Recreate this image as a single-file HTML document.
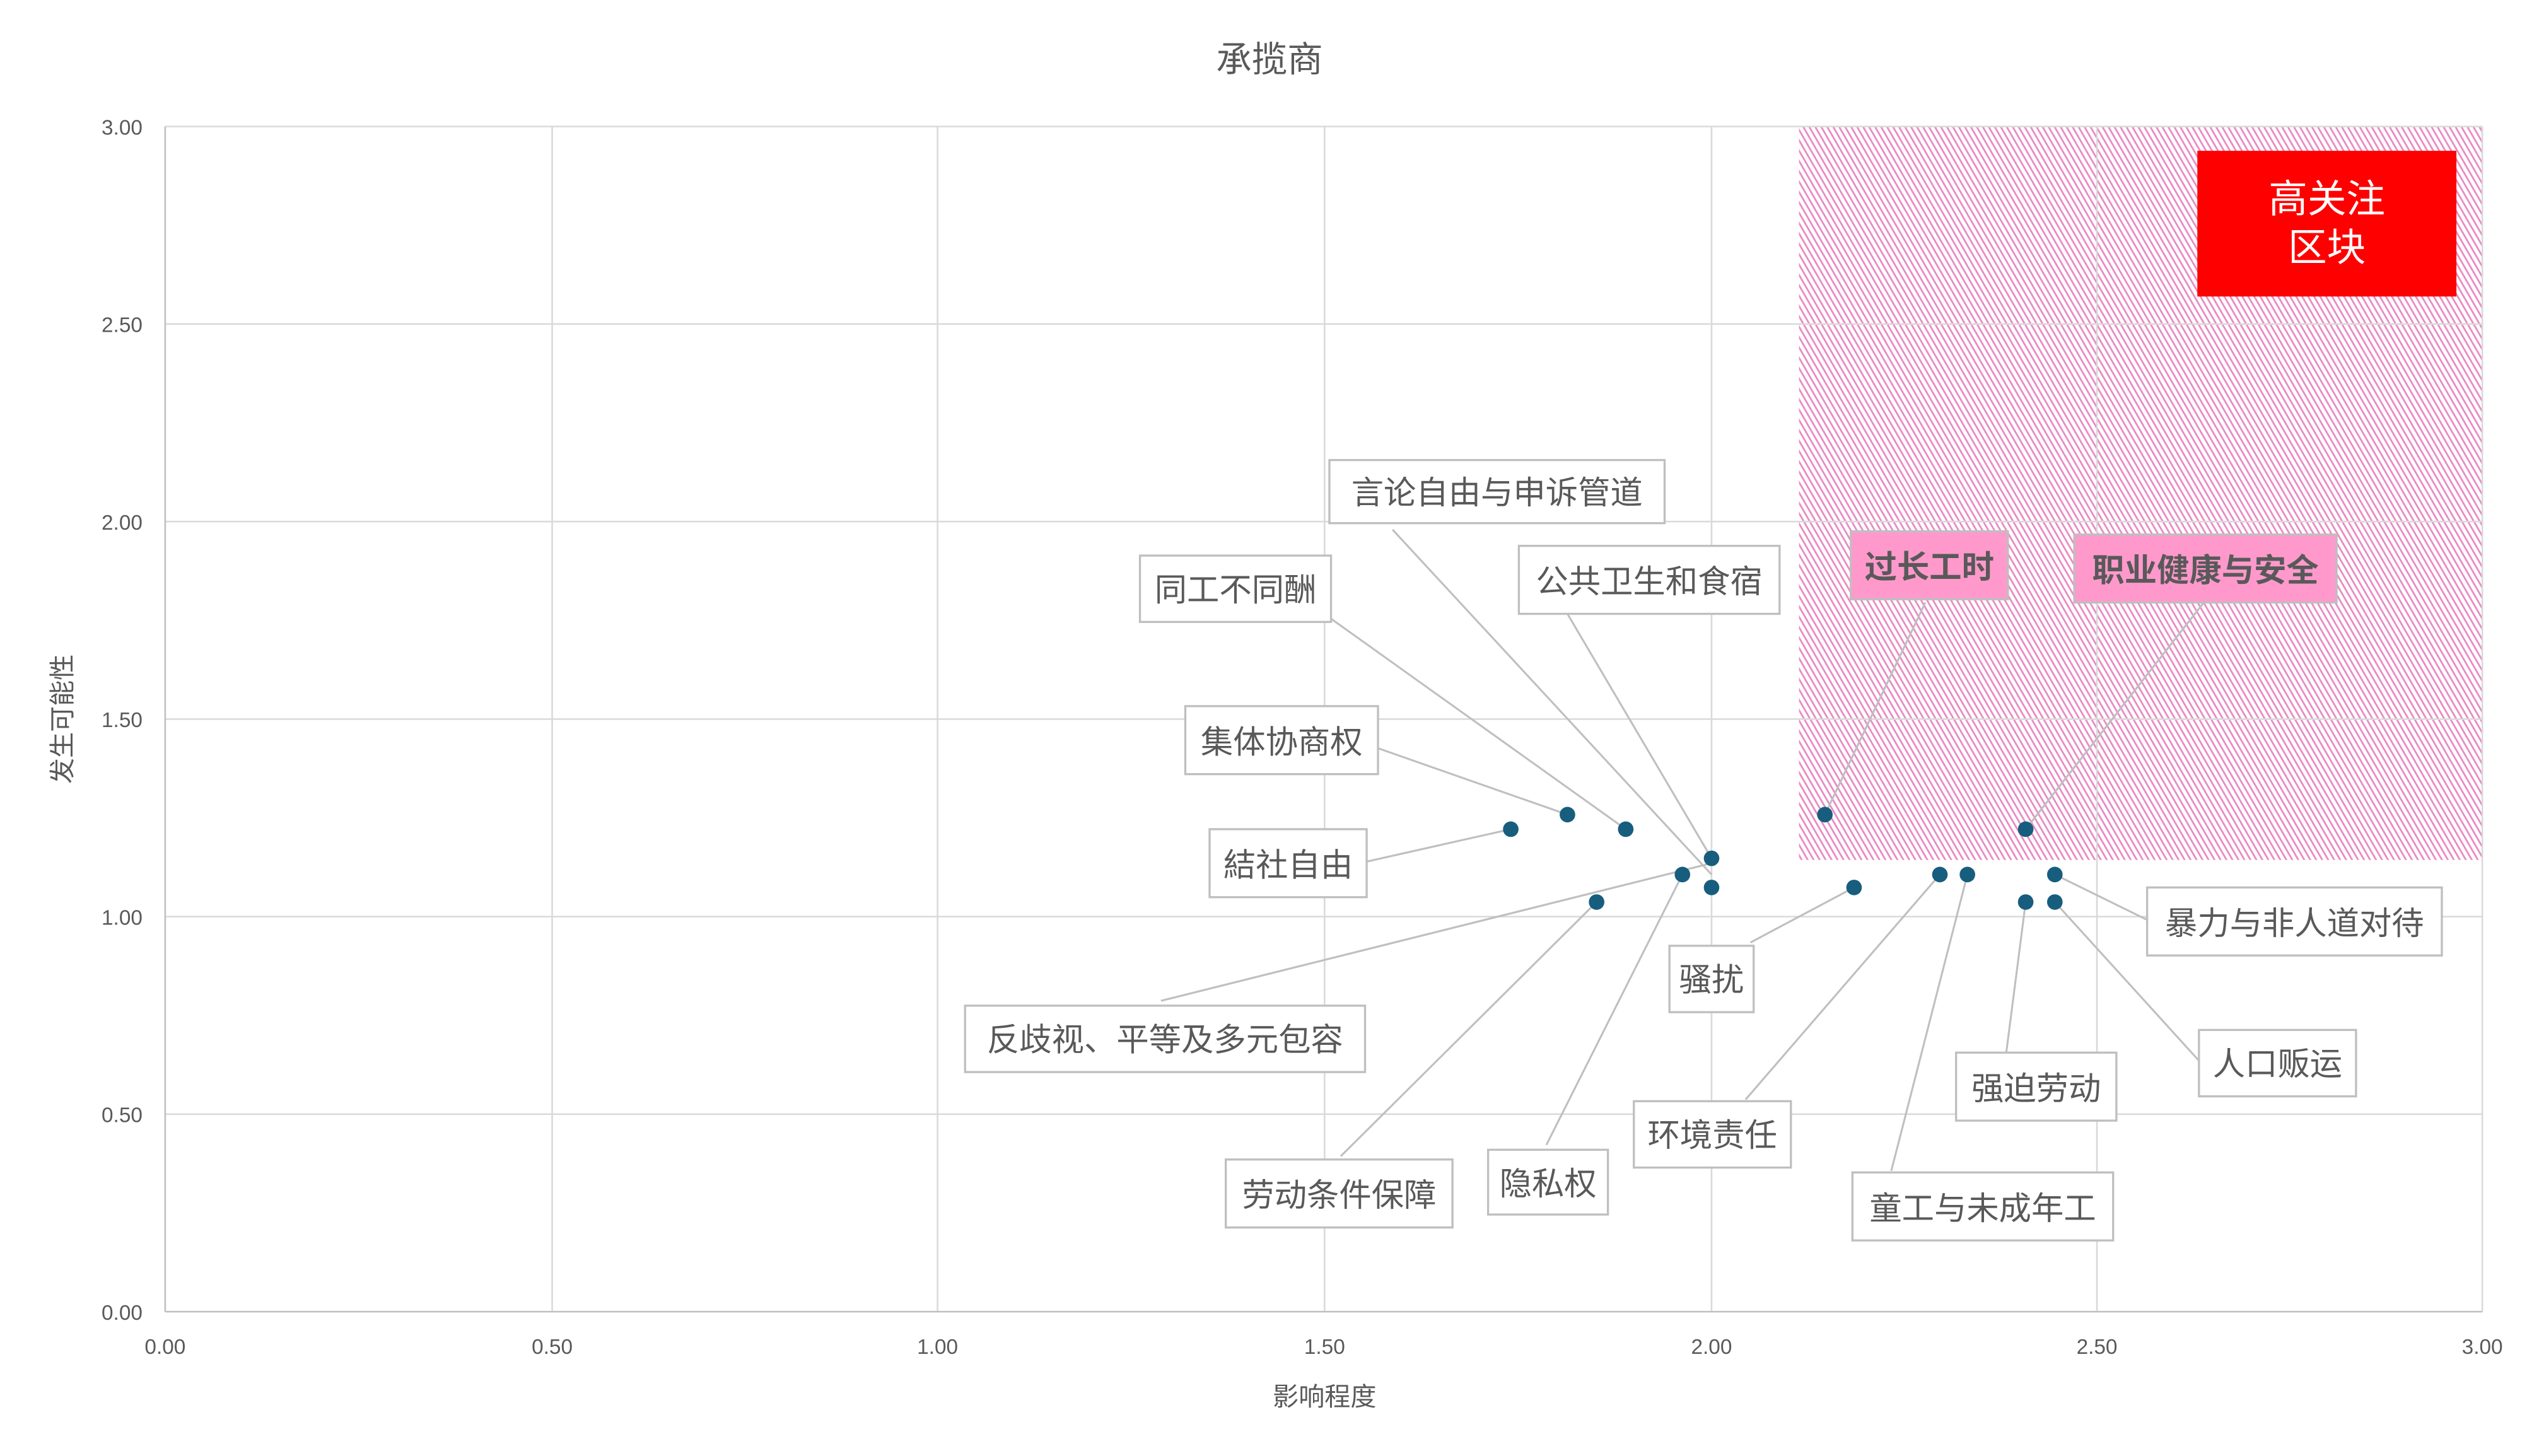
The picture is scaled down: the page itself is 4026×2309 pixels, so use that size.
<!DOCTYPE html>
<html><head><meta charset="utf-8"><style>
html,body{margin:0;padding:0;background:#fff;}
svg{display:block;}
text{font-family:"Liberation Sans","Noto Sans CJK SC",sans-serif;fill:#595959;}
</style></head><body>
<svg width="4026" height="2309" viewBox="0 0 1568 899" xmlns="http://www.w3.org/2000/svg">
<defs>
<pattern id="h" patternUnits="userSpaceOnUse" width="3.2" height="3.2" patternTransform="rotate(-30)">
<rect width="3.2" height="3.2" fill="#fff"/>
<rect width="1.1" height="3.2" fill="#e98bc4"/>
</pattern>
</defs>
<rect x="0" y="0" width="1568" height="899" fill="#fff"/>
<rect x="1111" y="78" width="422" height="453" fill="url(#h)"/>
<g stroke="#d9d9d9" stroke-width="1">
<line x1="102" y1="78" x2="1533" y2="78"/>
<line x1="102" y1="200" x2="1533" y2="200"/>
<line x1="102" y1="322" x2="1533" y2="322"/>
<line x1="102" y1="444" x2="1533" y2="444"/>
<line x1="102" y1="566" x2="1533" y2="566"/>
<line x1="102" y1="688" x2="1533" y2="688"/>
<line x1="341" y1="78" x2="341" y2="810"/>
<line x1="579" y1="78" x2="579" y2="810"/>
<line x1="818" y1="78" x2="818" y2="810"/>
<line x1="1057" y1="78" x2="1057" y2="810"/>
<line x1="1295" y1="78" x2="1295" y2="810"/>
<line x1="1533" y1="78" x2="1533" y2="810"/>
</g>
<g stroke="#bfbfbf" stroke-width="1">
<line x1="102" y1="78" x2="102" y2="810"/>
<line x1="102" y1="810" x2="1533" y2="810"/>
</g>
<g font-size="13" text-anchor="end">
<text x="88" y="83">3.00</text><text x="88" y="205">2.50</text><text x="88" y="327">2.00</text>
<text x="88" y="449">1.50</text><text x="88" y="571">1.00</text><text x="88" y="693">0.50</text><text x="88" y="815">0.00</text>
</g>
<g font-size="13" text-anchor="middle">
<text x="102" y="836">0.00</text><text x="341" y="836">0.50</text><text x="579" y="836">1.00</text>
<text x="818" y="836">1.50</text><text x="1057" y="836">2.00</text><text x="1295" y="836">2.50</text><text x="1533" y="836">3.00</text>
</g>
<text x="784" y="44" font-size="22" text-anchor="middle">承揽商</text>
<text x="818" y="868" font-size="16" text-anchor="middle">影响程度</text>
<text transform="translate(44,444) rotate(-90)" font-size="16" text-anchor="middle">发生可能性</text>
<rect x="1357" y="93" width="160" height="90" fill="#ff0000"/>
<text x="1437" y="131" font-size="24" text-anchor="middle" style="fill:#fff">高关注</text>
<text x="1437" y="161" font-size="24" text-anchor="middle" style="fill:#fff">区块</text>
<g stroke="#bfbfbf" stroke-width="1.2" fill="none">
<line x1="860" y1="327" x2="1057" y2="540"/>
<line x1="968" y1="379" x2="1057" y2="530"/>
<line x1="822" y1="382" x2="1004" y2="512"/>
<line x1="851" y1="462" x2="968" y2="503"/>
<line x1="844" y1="532" x2="933" y2="512"/>
<line x1="717" y1="618" x2="1057" y2="533"/>
<line x1="828" y1="714" x2="986" y2="557"/>
<line x1="955" y1="707" x2="1039" y2="540"/>
<line x1="1081" y1="582" x2="1145" y2="548"/>
<line x1="1078" y1="679" x2="1198" y2="540"/>
<line x1="1168" y1="723" x2="1215" y2="540"/>
<line x1="1239" y1="650" x2="1251" y2="557"/>
<line x1="1358" y1="655" x2="1269" y2="557"/>
<line x1="1326" y1="568" x2="1269" y2="540"/>
<line x1="1361" y1="372" x2="1251" y2="512"/>
<line x1="1189" y1="372" x2="1127" y2="503"/>
</g>
<g fill="#175d7e">
<circle cx="933" cy="512" r="4.8"/><circle cx="968" cy="503" r="4.8"/><circle cx="1004" cy="512" r="4.8"/>
<circle cx="1057" cy="530" r="4.8"/><circle cx="1039" cy="540" r="4.8"/><circle cx="1057" cy="548" r="4.8"/>
<circle cx="986" cy="557" r="4.8"/><circle cx="1127" cy="503" r="4.8"/><circle cx="1145" cy="548" r="4.8"/>
<circle cx="1198" cy="540" r="4.8"/><circle cx="1215" cy="540" r="4.8"/><circle cx="1251" cy="512" r="4.8"/>
<circle cx="1269" cy="540" r="4.8"/><circle cx="1251" cy="557" r="4.8"/><circle cx="1269" cy="557" r="4.8"/>
</g>
<g stroke="#bfbfbf" stroke-width="1.3" fill="#fff">
<rect x="821" y="284" width="207" height="39"/>
<rect x="938" y="337" width="161" height="42"/>
<rect x="704" y="343" width="118" height="41"/>
<rect x="732" y="436" width="119" height="42"/>
<rect x="747" y="512" width="97" height="42"/>
<rect x="596" y="621" width="247" height="41"/>
<rect x="757" y="716" width="140" height="42"/>
<rect x="919" y="710" width="74" height="40"/>
<rect x="1031" y="584" width="52" height="41"/>
<rect x="1009" y="680" width="97" height="41"/>
<rect x="1144" y="724" width="161" height="42"/>
<rect x="1208" y="650" width="99" height="42"/>
<rect x="1358" y="636" width="97" height="41"/>
<rect x="1326" y="548" width="182" height="42"/>
<rect x="1143" y="328" width="97" height="42" fill="#ff99cc"/>
<rect x="1281" y="330" width="162" height="42" fill="#ff99cc"/>
</g>
<g font-size="20" text-anchor="middle">
<text x="924.5" y="311">言论自由与申诉管道</text>
<text x="1018.5" y="366">公共卫生和食宿</text>
<text x="763" y="371">同工不同酬</text>
<text x="791.5" y="465">集体协商权</text>
<text x="795.5" y="541">結社自由</text>
<text x="719.5" y="649">反歧视、平等及多元包容</text>
<text x="827" y="745">劳动条件保障</text>
<text x="956" y="738">隐私权</text>
<text x="1057" y="612">骚扰</text>
<text x="1057.5" y="708">环境责任</text>
<text x="1224.5" y="753">童工与未成年工</text>
<text x="1257.5" y="679">强迫劳动</text>
<text x="1406.5" y="664">人口贩运</text>
<text x="1417" y="577">暴力与非人道对待</text>
<text x="1191.5" y="357" font-weight="bold">过长工时</text>
<text x="1362" y="359" font-weight="bold">职业健康与安全</text>
</g>
</svg>
</body></html>
